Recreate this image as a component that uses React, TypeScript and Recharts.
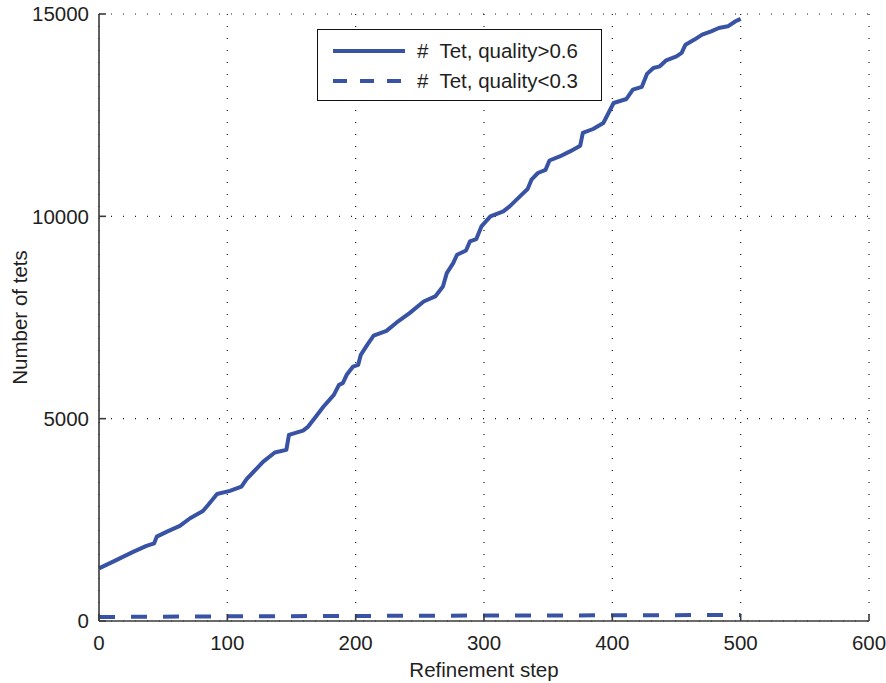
import React from 'react';
import { LineChart, Line, XAxis, YAxis, CartesianGrid, Legend } from 'recharts';

// Refinement steps and number of tets with quality > 0.6
const goodSteps = [
  0, 11, 27, 37, 43, 45, 53, 63, 71, 81, 85, 92, 102, 111, 115, 128, 137, 146, 148, 159,
  163, 168, 175, 183, 187, 190, 193, 198, 202, 204, 209, 214, 224, 232, 242, 253, 262, 268,
  271, 276, 279, 286, 289, 294, 298, 305, 315, 320, 328, 334, 337, 342, 348, 351, 359, 367,
  375, 377, 385, 393, 397, 401, 411, 416, 423, 427, 432, 437, 442, 450, 454, 457, 464, 470,
  477, 483, 490, 496, 500,
];
const goodCounts = [
  1300, 1467, 1714, 1855, 1920, 2085, 2209, 2349, 2539, 2720, 2868, 3140, 3215, 3321, 3504,
  3940, 4163, 4228, 4599, 4706, 4805, 5012, 5300, 5589, 5836, 5877, 6083, 6288, 6330, 6578,
  6825, 7050, 7170, 7377, 7608, 7896, 8020, 8267, 8597, 8845, 9050, 9157, 9380, 9438, 9750,
  9997, 10121, 10245, 10492, 10675, 10905, 11071, 11150, 11380, 11480, 11605, 11746, 12060,
  12158, 12307, 12554, 12801, 12900, 13130, 13200, 13520, 13667, 13707, 13855, 13954, 14038,
  14243, 14367, 14490, 14572, 14655, 14696, 14820, 14880,
];

// Number of tets with quality < 0.3
const badSteps = [0, 100, 200, 300, 400, 500];
const badCounts = [100, 115, 125, 135, 140, 150];

const xTicks = [0, 100, 200, 300, 400, 500, 600];
const yTicks = [0, 5000, 10000, 15000];
const seriesNames = ['#  Tet, quality>0.6', '#  Tet, quality<0.3'];
const xLabel = 'Refinement step';
const yLabel = 'Number of tets';

const goodData = goodSteps.map((s, i) => ({ step: s, count: goodCounts[i] }));
const badData = badSteps.map((s, i) => ({ step: s, count: badCounts[i] }));

const FONT = '"Liberation Sans", Arial, Helvetica, sans-serif';
const BLUE = '#3953A4';
const TEXT = '#1f1f1f';
const AXIS = '#3a3a3a';

const renderLegend = () => (
  <div
    style={{
      width: 285,
      height: 72,
      boxSizing: 'border-box',
      border: '1px solid #111',
      background: '#fff',
      paddingTop: 6,
      fontFamily: FONT,
      fontSize: 20.5,
      color: TEXT,
    }}
  >
    {seriesNames.map((name, i) => (
      <div key={name} style={{ display: 'flex', alignItems: 'center', height: 30 }}>
        <svg width={99} height={30} style={{ display: 'block' }}>
          <line
            x1={15}
            x2={87}
            y1={15}
            y2={15}
            stroke={BLUE}
            strokeWidth={4}
            strokeDasharray={i === 1 ? '14 13' : undefined}
          />
        </svg>
        <span style={{ whiteSpace: 'pre', lineHeight: '30px' }}>{name}</span>
      </div>
    ))}
  </div>
);

export default function App() {
  return (
    <div style={{ position: 'absolute', left: 0, top: 0, width: 886, height: 683, background: '#fff' }}>
      <LineChart width={886} height={683} margin={{ top: 14, right: 17, bottom: 0, left: 0 }}>
        <CartesianGrid stroke="#1a1a1a" strokeDasharray="1 11" strokeWidth={1.2} />
        <XAxis
          type="number"
          dataKey="step"
          domain={[0, 600]}
          ticks={xTicks}
          interval={0}
          height={62}
          axisLine={{ stroke: AXIS, strokeWidth: 1.6 }}
          tickLine={{ stroke: AXIS, strokeWidth: 1.6 }}
          tickSize={-7}
          tickMargin={21}
          tick={{ fill: TEXT, fontSize: 20.5, fontFamily: FONT }}
          label={(props: any) => {
            const vb = props.viewBox || { x: 99, y: 621, width: 770 };
            return (
              <text
                x={vb.x + vb.width / 2}
                y={vb.y + 56}
                textAnchor="middle"
                fill={TEXT}
                fontSize={20.5}
                fontFamily={FONT}
              >
                {xLabel}
              </text>
            );
          }}
        />
        <YAxis
          type="number"
          domain={[0, 15000]}
          ticks={yTicks}
          interval={0}
          width={99}
          axisLine={{ stroke: AXIS, strokeWidth: 1.6 }}
          tickLine={{ stroke: AXIS, strokeWidth: 1.6 }}
          tickSize={-7}
          tickMargin={17}
          tick={{ fill: TEXT, fontSize: 20.5, fontFamily: FONT }}
          label={(props: any) => {
            const vb = props.viewBox || { x: 0, y: 14, height: 607 };
            const cx = vb.x + 27;
            const cy = vb.y + vb.height / 2;
            return (
              <text
                x={cx}
                y={cy}
                transform={`rotate(-90 ${cx} ${cy})`}
                textAnchor="middle"
                fill={TEXT}
                fontSize={20.5}
                fontFamily={FONT}
              >
                {yLabel}
              </text>
            );
          }}
        />
        <Line
          data={badData}
          dataKey="count"
          name={seriesNames[1]}
          type="linear"
          stroke={BLUE}
          strokeWidth={4}
          strokeDasharray="16 16"
          dot={false}
          activeDot={false}
          isAnimationActive={false}
        />
        <Line
          data={goodData}
          dataKey="count"
          name={seriesNames[0]}
          type="linear"
          stroke={BLUE}
          strokeWidth={4}
          strokeLinejoin="round"
          dot={false}
          activeDot={false}
          isAnimationActive={false}
        />
        <Legend
          layout="vertical"
          align="center"
          verticalAlign="middle"
          wrapperStyle={{ position: 'absolute', left: 317, top: 29, width: 285, height: 72 }}
          content={renderLegend}
        />
      </LineChart>
    </div>
  );
}
